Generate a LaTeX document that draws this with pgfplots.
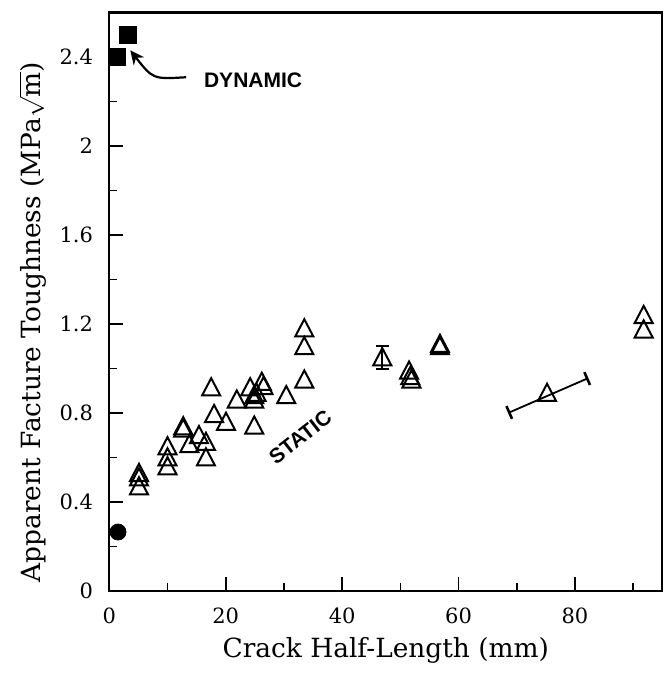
\documentclass[border=0pt]{standalone}
\usepackage{fontspec}
\setmainfont{DejaVu Serif}
\newfontfamily\lsans{Liberation Sans}
\usepackage{pgfplots}
\pgfplotsset{compat=1.18}
\usetikzlibrary{arrows.meta}

% static (open triangles)
\pgfplotstableread{
x y
5.1 0.52
5.1 0.50
5.1 0.46
10.0 0.64
10.0 0.59
10.0 0.55
12.7 0.73
12.7 0.72
13.75 0.65
15.4 0.69
16.6 0.66
16.6 0.59
17.5 0.905
18.0 0.785
20.05 0.75
21.9 0.85
24.2 0.905
24.9 0.87
24.9 0.85
24.9 0.733
25.3 0.88
26.2 0.93
26.5 0.91
30.4 0.87
33.5 1.17
33.5 1.09
33.5 0.94
51.5 0.98
51.7 0.955
51.9 0.94
56.8 1.10
56.8 1.09
75.2 0.88
91.8 1.23
91.8 1.165
}\staticdata

\begin{document}
\begin{tikzpicture}
\begin{axis}[
  name=ax,
  scale only axis,
  width=276.5pt, height=289.25pt,
  xmin=0, xmax=95, ymin=0, ymax=2.6,
  xtick={0,20,40,60,80},
  minor xtick={10,30,50,70,90},
  ytick={0,0.4,0.8,1.2,1.6,2,2.4},
  minor ytick={0.2,0.6,1.0,1.4,1.8,2.2},
  tick pos=left,
  tick align=inside,
  major tick length=7pt,
  minor tick length=4pt,
  axis line style={line width=1.1pt},
  every tick/.style={black, line width=0.8pt},
  /pgf/number format/assume math mode=true,
  ticklabel style={font=\fontsize{10.5}{12}\selectfont},
  xticklabel style={yshift=-5pt},
  yticklabel style={xshift=-4.6pt},
  xlabel={Crack Half-Length (mm)},
  ylabel={Apparent Facture Toughness (MPa\kern0.5pt$\sqrt{\hbox{m}}$)},
  label style={font=\fontsize{13.2}{15}\selectfont},
  xlabel style={at={(axis description cs:0.5,-0.1141)}, anchor=base},
  ylabel style={at={(axis description cs:-0.1248,0.465)}, anchor=base, rotate=0},
  clip=false,
]
\addplot[only marks, mark=triangle, mark size=5.2pt,
  mark options={black, line width=1pt, yscale=1.1}] table {\staticdata};

% point with vertical scatter bar
\addplot[only marks, mark=triangle, mark size=5.2pt,
  mark options={black, line width=1pt, yscale=1.1},
  error bars/.cd, y dir=both, y explicit,
  error bar style={black, line width=0.9pt},
  error mark options={rotate=90, mark size=3.3pt, line width=1pt}]
  coordinates {(46.9,1.04) += (0,0.062) -= (0,0.044)};

% slanted range bar
\addplot[black, line width=0.9pt,
  {Bar[width=7pt, line width=1.3pt]}-{Bar[width=7pt, line width=1.3pt]}]
  coordinates {(68.5,0.80) (82.3,0.957)};

% dynamic (filled squares)
\addplot[only marks, mark=square*, mark size=4.3pt, black]
  coordinates {(1.24,2.40) (3.2,2.50)};

% filled circle
\addplot[only marks, mark=*, mark size=4pt, black]
  coordinates {(1.5,0.265)};

\draw[line width=1.1pt, -{Stealth[length=7pt, width=6.5pt]}]
  (axis cs:13.2,2.309) .. controls (axis cs:7.5,2.30) .. (axis cs:3.6,2.43);
\node[font=\lsans\bfseries\fontsize{10.5}{12}\selectfont]
  at (axis cs:24.7,2.297) {DYNAMIC};
\node[font=\lsans\bfseries\fontsize{10.5}{12}\selectfont, rotate=38]
  at (axis cs:32.8,0.692) {STATIC};
\end{axis}
\path ([shift={(-54.65pt,-43pt)}]ax.south west)
  rectangle ([shift={(1.5pt,6.25pt)}]ax.north east);
\end{tikzpicture}
\end{document}
